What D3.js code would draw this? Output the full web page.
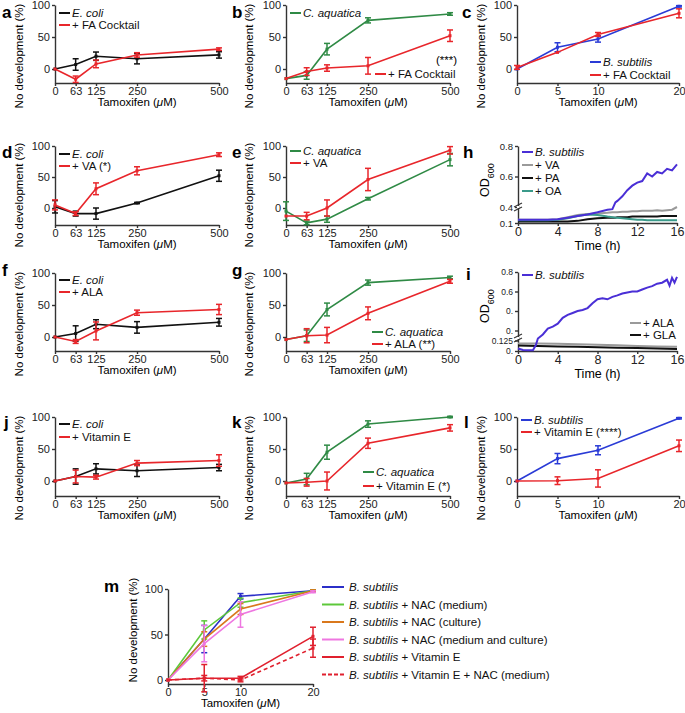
<!DOCTYPE html>
<html><head><meta charset="utf-8">
<script src="https://cdn.jsdelivr.net/npm/d3@7"></script>
<style>
body{margin:0;background:#fff;}
svg{font-family:"Liberation Sans",Arial,sans-serif;}
.axis path,.axis line{stroke:#333;stroke-width:1.4;}
.axis text{font-size:11px;fill:#222;font-family:"Liberation Sans",Arial,sans-serif;}
</style></head><body>
<script>
// doses (uM)
const doseEC = [0, 63, 125, 250, 500];
const doseBS = [0, 5, 10, 20];

// a
const aEcoli = [0, 7, 20, 16, 22],   aEcoliErr = [0, 9, 6.5, 8, 5];
const aFA = [0, -16, 8, 22, 31],     aFAErr = [0, 5, 6, 3.5, 2];
// b
const bCaq = [-15, -10, 31, 76, 86], bCaqErr = [0, 6, 9, 4, 2];
const bFA = [-15, -4, 1.5, 5, 52],   bFAErr = [0, 6, 5, 13, 9];
// c
const cBs = [0, 34, 47, 98],         cBsErr = [0, 7, 5, 1];
const cFA = [2.5, 26, 54, 87],       cFAErr = [3, 0, 3, 7];
// d
const dEcoli = [2, -9, -9, 8, 52],   dEcoliErr = [10, 4, 9, 1, 9];
const dVA = [5, -9, 31, 60, 86],     dVAErr = [8, 3, 9.5, 6.5, 3];
// e
const eCaq = [-5, -24, -18, 15, 78], eCaqErr = [15, 3, 5, 2, 10];
const eVA = [-13, -13, 0, 46, 93],   eVAErr = [0, 6, 13, 18, 6];
// f
const fEcoli = [0, 5.5, 20, 15, 23], fEcoliErr = [0, 12, 7, 9, 6];
const fALA = [0, -7, 9.5, 38, 43],   fALAErr = [0, 3, 14, 4, 8];
// g
const gCaq = [-4, 2, 43, 85, 93],    gCaqErr = [0, 9, 10, 4, 2];
const gALA = [-4, 2, 3, 37, 87],     gALAErr = [0, 11, 12, 10, 3];
// j
const jEcoli = [0, 7, 19, 16, 21],   jEcoliErr = [0, 12, 8, 9, 5];
const jVitE = [0, 7, 6, 28, 32],     jVitEErr = [0, 10, 3, 4, 9];
// k
const kCaq = [-3, 3, 45, 89, 100],   kCaqErr = [0, 9, 11, 5, 1];
const kVitE = [-3, -2, 0, 59, 83],   kVitEErr = [0, 6, 14, 8, 5];
// l
const lBs = [0, 35, 48, 98],         lBsErr = [0, 8, 7, 1];
const lVitE = [0, 0.5, 4, 55],       lVitEErr = [0, 6, 13.5, 9];
// m
const mBs = [0, 45, 92, 98],         mBsErr = [0, 15, 3, 1];
const mNacMed = [0, 55, 85, 98],     mNacMedErr = [0, 10, 5, 1];
const mNacCul = [0, 45, 78, 98],     mNacCulErr = [0, 8, 6, 1];
const mNacBoth = [0, 40, 72, 97],    mNacBothErr = [0, 20, 14, 1];
const mVitE = [0, 2, 2, 48],         mVitEErr = [0, 3, 2, 10];
const mVitENac = [0, 2, 0, 35],      mVitENacErr = [0, 15, 2, 10];

// h growth curves (OD600 vs time)
const hTime = [0,1,2,3,4,5,6,7,8,9,9.5,9.8,10,10.5,11,11.5,12,12.5,13,13.5,14,14.5,15,15.5,16];
const hBs = [0.16,0.16,0.16,0.16,0.17,0.2,0.23,0.26,0.3,0.35,0.36,0.43,0.44,0.47,0.51,0.54,0.56,0.57,0.62,0.6,0.63,0.62,0.65,0.64,0.68];
const hVA = [0.16,0.16,0.16,0.16,0.17,0.21,0.25,0.27,0.28,0.29,0.3,0.3,0.3,0.31,0.31,0.32,0.32,0.33,0.33,0.33,0.34,0.33,0.34,0.35,0.4];
const hPA = [0.13,0.13,0.13,0.13,0.13,0.13,0.14,0.17,0.19,0.2,0.2,0.2,0.21,0.21,0.21,0.22,0.22,0.22,0.22,0.22,0.22,0.23,0.23,0.23,0.23];
const hOA = [0.15,0.15,0.15,0.15,0.16,0.19,0.23,0.26,0.25,0.22,0.21,0.2,0.2,0.19,0.18,0.17,0.16,0.16,0.15,0.15,0.15,0.15,0.15,0.15,0.15];

// i growth curves
const iTime = [0,0.5,1,1.5,1.8,2,2.5,3,3.5,4,4.5,5,5.5,6,6.5,7,7.5,8,8.5,9,9.5,10,10.5,11,11.5,12,12.5,13,13.5,14,14.5,15,15.25,15.5,15.75,16];
const iBs = [0.03,0.012,0.01,0.01,0.07,0.14,0.17,0.22,0.24,0.27,0.33,0.36,0.38,0.4,0.41,0.43,0.48,0.52,0.53,0.52,0.545,0.56,0.58,0.59,0.6,0.6,0.62,0.64,0.655,0.68,0.69,0.72,0.66,0.74,0.69,0.75];
const iTimeCtl = [0, 2, 4, 6, 8, 10, 12, 14, 16];
const iALA = [0.09, 0.088, 0.085, 0.08, 0.075, 0.068, 0.06, 0.055, 0.05];
const iGLA = [0.065, 0.06, 0.055, 0.05, 0.045, 0.04, 0.035, 0.03, 0.025];

const C = {
  black: "#111", red: "#e8262b", green: "#2f8a45", blue: "#2a3bd6",
  purple: "#4a2fd6", gray: "#9a9a9a", teal: "#3a9a8a",
  mBlue: "#2b2fc8", mGreen: "#5dc83a", mOrange: "#d9781c", mPink: "#ee77e0", mRed: "#e0202e"
};

const svg = d3.select("body").append("svg")
  .attr("width", 685).attr("height", 713);

function addLegend(g, items, lx, ly, step, len) {
  len = len || 11;
  items.forEach((it, i) => {
    let yy = ly + i * step;
    g.append("line").attr("x1", lx).attr("x2", lx + len).attr("y1", yy).attr("y2", yy)
      .attr("stroke", it.color).attr("stroke-width", 2)
      .attr("stroke-dasharray", it.dash ? "4,2" : null);
    let t = g.append("text").attr("x", lx + len + 2 + (len > 15 ? 3 : 0)).attr("y", yy + 4)
      .style("font-size", "11.5px").attr("fill", "#111");
    if (it.it) t.append("tspan").style("font-style", "italic").text(it.it);
    if (it.txt) t.append("tspan").text(it.txt);
  });
}

function letter(lbl, x, y) {
  svg.append("text").attr("x", x).attr("y", y).text(lbl)
    .style("font-size", "17px").style("font-weight", "bold");
}

function xTitle(g, cx, y, fs) {
  let t = g.append("text").attr("x", cx).attr("y", y).attr("text-anchor", "middle")
    .style("font-size", fs || "11.5px");
  t.append("tspan").text("Tamoxifen (");
  t.append("tspan").style("font-style", "italic").text("\u03bc");
  t.append("tspan").text("M)");
}

function dosePanel(p) {
  let g = svg.append("g");
  let x = d3.scaleLinear().domain(p.xDomain).range([p.x0, p.x1]);
  let y = d3.scaleLinear().domain([0, 100]).range([p.y0, p.yTop]);
  y.domain([y.invert(p.base), 100]).range([p.base, p.yTop]);

  g.append("g").attr("class", "axis")
    .attr("transform", "translate(" + p.x0 + ",0)")
    .call(d3.axisLeft(y).tickValues(p.yTicks || [0, 50, 100]).tickSize(3).tickPadding(2).tickSizeOuter(0));
  g.append("g").attr("class", "axis")
    .attr("transform", "translate(0," + p.base + ")")
    .call(d3.axisBottom(x).tickValues(p.xTicks).tickSize(3).tickPadding(1).tickSizeOuter(0));

  p.series.forEach(s => {
    let pts = p.xTicks.map((d, i) => ({x: d, v: s.vals[i], e: s.errs[i]}));
    g.append("path").datum(pts)
      .attr("fill", "none").attr("stroke", s.color).attr("stroke-width", 1.6)
      .attr("stroke-dasharray", s.dash ? "4,3" : null)
      .attr("d", d3.line().x(d => x(d.x)).y(d => y(d.v)));
    pts.forEach(d => {
      if (d.e > 0) {
        let cx = x(d.x), w = p.cap || 3;
        g.append("line").attr("x1", cx).attr("x2", cx).attr("y1", y(d.v - d.e)).attr("y2", y(d.v + d.e))
          .attr("stroke", s.color).attr("stroke-width", 1.5);
        [d.v - d.e, d.v + d.e].forEach(vv => {
          g.append("line").attr("x1", cx - w).attr("x2", cx + w).attr("y1", y(vv)).attr("y2", y(vv))
            .attr("stroke", s.color).attr("stroke-width", 1.5);
        });
      }
      g.append("rect").attr("x", x(d.x) - 1.5).attr("y", y(d.v) - 1.5)
        .attr("width", 3).attr("height", 3).attr("fill", s.color);
    });
  });

  g.append("text").attr("transform", "translate(" + p.ylabX + "," + (p.ylabY || p.y0 - 13) + ") rotate(-90)")
    .attr("text-anchor", "middle").style("font-size", "11.5px").text("No development (%)");
  xTitle(g, (p.x0 + p.x1) / 2, p.base + 23);
  return g;
}

const rows = [
  {yTop: 5, y0: 69, base: 83},
  {yTop: 146, y0: 208, base: 225},
  {yTop: 273, y0: 337, base: 351},
  {yTop: 417, y0: 481, base: 496}
];
const cols = [
  {x0: 55, x1: 219, ylabX: 23},
  {x0: 286, x1: 450, ylabX: 253},
  {x0: 517, x1: 679, ylabX: 485}
];
function frame(r, c) { return Object.assign({}, rows[r], cols[c]); }

// a
let ga = dosePanel(Object.assign(frame(0, 0), {xDomain: [0, 500], xTicks: doseEC,
  series: [{vals: aEcoli, errs: aEcoliErr, color: C.black}, {vals: aFA, errs: aFAErr, color: C.red}]}));
addLegend(ga, [{it: "E. coli", color: C.black}, {txt: "+ FA Cocktail", color: C.red}], 59, 13, 12);
letter("a", 2, 18);

// b
let gb = dosePanel(Object.assign(frame(0, 1), {xDomain: [0, 500], xTicks: doseEC,
  series: [{vals: bCaq, errs: bCaqErr, color: C.green}, {vals: bFA, errs: bFAErr, color: C.red}]}));
addLegend(gb, [{it: "C. aquatica", color: C.green}], 290, 13, 12);
addLegend(gb, [{txt: "+ FA Cocktail", color: C.red}], 375, 74, 12);
gb.append("text").attr("x", 457).attr("y", 64).attr("text-anchor", "end").style("font-size", "11.5px").text("(***)");
letter("b", 232, 18);

// c
let gc = dosePanel(Object.assign(frame(0, 2), {xDomain: [0, 20], xTicks: doseBS,
  series: [{vals: cBs, errs: cBsErr, color: C.blue}, {vals: cFA, errs: cFAErr, color: C.red}]}));
addLegend(gc, [{it: "B. subtilis", color: C.blue}, {txt: "+ FA Cocktail", color: C.red}], 590, 62, 13);
letter("c", 462, 18);

// d
let gd = dosePanel(Object.assign(frame(1, 0), {xDomain: [0, 500], xTicks: doseEC,
  series: [{vals: dEcoli, errs: dEcoliErr, color: C.black}, {vals: dVA, errs: dVAErr, color: C.red}]}));
addLegend(gd, [{it: "E. coli", color: C.black}, {txt: "+ VA (*)", color: C.red}], 59, 154, 12);
letter("d", 2, 158);

// e
let ge = dosePanel(Object.assign(frame(1, 1), {xDomain: [0, 500], xTicks: doseEC,
  series: [{vals: eCaq, errs: eCaqErr, color: C.green}, {vals: eVA, errs: eVAErr, color: C.red}]}));
addLegend(ge, [{it: "C. aquatica", color: C.green}, {txt: "+ VA", color: C.red}], 290, 151, 12);
letter("e", 232, 158);

// f
let gf = dosePanel(Object.assign(frame(2, 0), {xDomain: [0, 500], xTicks: doseEC,
  series: [{vals: fEcoli, errs: fEcoliErr, color: C.black}, {vals: fALA, errs: fALAErr, color: C.red}]}));
addLegend(gf, [{it: "E. coli", color: C.black}, {txt: "+ ALA", color: C.red}], 59, 280, 12);
letter("f", 2, 276);

// g
let gg = dosePanel(Object.assign(frame(2, 1), {xDomain: [0, 500], xTicks: doseEC,
  series: [{vals: gCaq, errs: gCaqErr, color: C.green}, {vals: gALA, errs: gALAErr, color: C.red}]}));
addLegend(gg, [{it: "C. aquatica", color: C.green}, {txt: "+ ALA (**)", color: C.red}], 372, 332, 12);
letter("g", 232, 276);

// j
let gj = dosePanel(Object.assign(frame(3, 0), {xDomain: [0, 500], xTicks: doseEC,
  series: [{vals: jEcoli, errs: jEcoliErr, color: C.black}, {vals: jVitE, errs: jVitEErr, color: C.red}]}));
addLegend(gj, [{it: "E. coli", color: C.black}, {txt: "+ Vitamin E", color: C.red}], 59, 424, 13);
letter("j", 4, 428);

// k
let gk = dosePanel(Object.assign(frame(3, 1), {xDomain: [0, 500], xTicks: doseEC,
  series: [{vals: kCaq, errs: kCaqErr, color: C.green}, {vals: kVitE, errs: kVitEErr, color: C.red}]}));
addLegend(gk, [{it: "C. aquatica", color: C.green}, {txt: "+ Vitamin E (*)", color: C.red}], 363, 472, 14);
letter("k", 232, 428);

// l
let gl = dosePanel(Object.assign(frame(3, 2), {xDomain: [0, 20], xTicks: doseBS,
  series: [{vals: lBs, errs: lBsErr, color: C.blue}, {vals: lVitE, errs: lVitEErr, color: C.red}]}));
addLegend(gl, [{it: "B. subtilis", color: C.blue}, {txt: "+ Vitamin E (****)", color: C.red}], 521, 420, 12);
letter("l", 464, 428);

// m
let gm = dosePanel({x0: 168, x1: 313, yTop: 589, y0: 680, base: 684, ylabX: 137, ylabY: 630,
  xDomain: [0, 20], xTicks: doseBS, cap: 3,
  series: [
    {vals: mBs, errs: mBsErr, color: C.mBlue},
    {vals: mNacMed, errs: mNacMedErr, color: C.mGreen},
    {vals: mNacCul, errs: mNacCulErr, color: C.mOrange},
    {vals: mNacBoth, errs: mNacBothErr, color: C.mPink},
    {vals: mVitE, errs: mVitEErr, color: C.mRed},
    {vals: mVitENac, errs: mVitENacErr, color: C.mRed, dash: true}
  ]});
addLegend(gm, [
  {it: "B. subtilis", color: C.mBlue},
  {it: "B. subtilis", txt: " + NAC (medium)", color: C.mGreen},
  {it: "B. subtilis", txt: " + NAC (culture)", color: C.mOrange},
  {it: "B. subtilis", txt: " + NAC (medium and culture)", color: C.mPink},
  {it: "B. subtilis", txt: " + Vitamin E", color: C.mRed},
  {it: "B. subtilis", txt: " + Vitamin E  + NAC (medium)", color: C.mRed, dash: true}
], 322, 587, 17.5, 22);
letter("m", 104, 592);

// growth panels
function odPanel(p) {
  let g = svg.append("g");
  let x = d3.scaleLinear().domain([0, 16]).range([p.x0, p.x1]);
  let y = d3.scaleLinear().domain(p.yDomain).range(p.yRange);
  g.append("g").attr("class", "axis").attr("transform", "translate(" + p.x0 + ",0)")
    .call(d3.axisLeft(y).tickValues(p.yTicks).tickFormat((d, i) => p.yLabels[i]).tickSize(3).tickPadding(2).tickSizeOuter(0))
    .selectAll("text").style("font-size", p.yFont || "9.5px");
  g.append("g").attr("class", "axis").attr("transform", "translate(0," + p.base + ")")
    .call(d3.axisBottom(x).tickValues([0, 4, 8, 12, 16]).tickSize(3).tickPadding(1).tickSizeOuter(0))
    .selectAll("text").style("font-size", "12.5px");
  // axis break marks
  [0, 4].forEach(o => {
    g.append("line").attr("x1", p.x0 - 4).attr("x2", p.x0 + 4)
      .attr("y1", p.brk + o + 2).attr("y2", p.brk + o - 2)
      .attr("stroke", "#333").attr("stroke-width", 1.2);
  });
  g.append("rect").attr("x", p.x0 - 1).attr("y", p.brk + 1).attr("width", 2).attr("height", 2).attr("fill", "#fff");
  p.series.forEach(s => {
    g.append("path").datum(s.t.map((t, i) => [t, s.v[i]]))
      .attr("fill", "none").attr("stroke", s.color).attr("stroke-width", 2)
      .attr("d", d3.line().x(d => x(d[0])).y(d => y(d[1])));
  });
  let yl = g.append("text").attr("transform", "translate(" + p.ylabX + "," + p.ylabY + ") rotate(-90)")
    .attr("text-anchor", "middle").style("font-size", "12.5px");
  yl.append("tspan").text("OD");
  yl.append("tspan").attr("baseline-shift", "sub").style("font-size", "9px").text("600");
  g.append("text").attr("x", (p.x0 + p.x1) / 2).attr("y", p.base + 27).attr("text-anchor", "middle")
    .style("font-size", "12.5px").text("Time (h)");
  return g;
}

let gh = odPanel({x0: 518, x1: 677, base: 223, brk: 205,
  yDomain: [0.1, 0.4, 0.8], yRange: [223, 207, 146],
  yTicks: [0.1, 0.4, 0.6, 0.8], yLabels: ["0.1", "0.4", "0.6", "0.8"],
  ylabX: 489, ylabY: 180,
  series: [
    {t: hTime, v: hVA, color: C.gray},
    {t: hTime, v: hPA, color: C.black},
    {t: hTime, v: hOA, color: C.teal},
    {t: hTime, v: hBs, color: C.purple}
  ]});
addLegend(gh, [{it: "B. subtilis", color: C.purple}, {txt: "+ VA", color: C.gray},
  {txt: "+ PA", color: C.black}, {txt: "+ OA", color: C.teal}], 522, 152, 13);
letter("h", 463, 158);

let gi = odPanel({x0: 518, x1: 677, base: 351, brk: 336, yFont: "8.5px",
  yDomain: [0, 0.125, 0.2, 0.8], yRange: [351, 340.5, 330.5, 272],
  yTicks: [0, 0.125, 0.2, 0.4, 0.6, 0.8], yLabels: ["0.", "0.125", "0.", "0.", "0.6", "0.8"],
  ylabX: 489, ylabY: 306,
  series: [
    {t: iTimeCtl, v: iALA, color: C.gray},
    {t: iTimeCtl, v: iGLA, color: C.black},
    {t: iTime, v: iBs, color: C.purple}
  ]});
addLegend(gi, [{it: "B. subtilis", color: C.purple}], 522, 275, 13);
addLegend(gi, [{txt: "+ ALA", color: C.gray}, {txt: "+ GLA", color: C.black}], 630, 323, 12);
letter("i", 466, 280);
</script></body></html>
